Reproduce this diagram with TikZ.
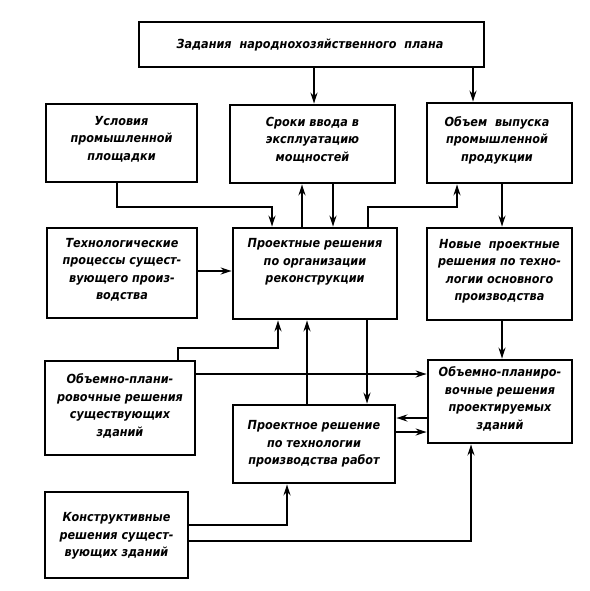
\documentclass[tikz,border=0pt]{standalone}
\usepackage{fontspec}
\setmainfont{DejaVu Sans Condensed Bold Oblique}
\usetikzlibrary{arrows.meta}
\begin{document}
\begin{tikzpicture}[x=1pt,y=-1pt,
  box/.style={draw,line width=2.8pt,inner sep=0pt},
  txt/.style={align=center,font=\fontsize{12.5}{17.5}\selectfont,inner sep=0pt},
  conn/.style={line width=2.2pt},
  arr/.style={conn,-{Stealth[length=11pt,width=7pt]}}]
\useasboundingbox (0,0) rectangle (589,591);
% boxes
\node[box,minimum width=345pt,minimum height=45pt] (T) at (311.5,44.5) {};
\node[box,minimum width=151pt,minimum height=78pt] (A) at (121.5,143) {};
\node[box,minimum width=165pt,minimum height=78pt] (B) at (312.5,144) {};
\node[box,minimum width=145pt,minimum height=80pt] (C) at (499.5,143) {};
\node[box,minimum width=150pt,minimum height=90pt] (D) at (122,273) {};
\node[box,minimum width=164pt,minimum height=91pt] (E) at (315,273.5) {};
\node[box,minimum width=145pt,minimum height=92pt] (F) at (499.5,274) {};
\node[box,minimum width=150pt,minimum height=94pt] (G) at (120,408) {};
\node[box,minimum width=144pt,minimum height=83pt] (H) at (500,401.5) {};
\node[box,minimum width=162pt,minimum height=78pt] (I) at (314,444) {};
\node[box,minimum width=143pt,minimum height=86pt] (J) at (116.5,535) {};
% texts
\node[txt] (tT) at (310,45) {Задания \ народнохозяйственного \ плана};
\node[txt] (tA) at (121.5,139) {Условия\\промышленной\\площадки};
\node[txt] (tB) at (312.5,140) {Сроки ввода в\\эксплуатацию\\мощностей};
\node[txt] (tC) at (497,140) {Объем \ выпуска\\промышленной\\продукции};
\node[txt] (tD) at (122,270) {Технологические\\процессы сущест-\\вующего произ-\\водства};
\node[txt] (tE) at (315,262) {Проектные решения\\по организации\\реконструкции};
\node[txt] (tF) at (499.5,271) {Новые \ проектные\\решения по техно-\\логии основного\\производства};
\node[txt] (tG) at (120,406) {Объемно-плани-\\ровочные решения\\существующих\\зданий};
\node[txt] (tH) at (500,399) {Объемно-планиро-\\вочные решения\\проектируемых\\зданий};
\node[txt] (tI) at (314,444) {Проектное решение\\по технологии\\производства работ};
\node[txt] (tJ) at (116.5,536) {Конструктивные\\решения сущест-\\вующих зданий};
% lane coordinates
\coordinate (v1) at (314,0);
\coordinate (v2) at (473,0);
\coordinate (a1) at (117,207);
\coordinate (a2) at (272,207);
\coordinate (v3) at (302,0);
\coordinate (v4) at (333,0);
\coordinate (c1) at (368,207);
\coordinate (c2) at (457,207);
\coordinate (v5) at (502,0);
\coordinate (h1) at (0,271);
\coordinate (g1) at (178,348);
\coordinate (g2) at (278,348);
\coordinate (h2) at (0,374);
\coordinate (v6) at (307,0);
\coordinate (v7) at (367,0);
\coordinate (h3) at (0,418);
\coordinate (h4) at (0,432);
\coordinate (j1) at (287,525);
\coordinate (k1) at (471,541);
% connectors
\draw[arr] (T.south -| v1) -- (B.north -| v1);
\draw[arr] (T.south -| v2) -- (C.north -| v2);
\draw[arr] (A.south -| a1) -- (a1) -- (a2) -- (E.north -| a2);
\draw[arr] (E.north -| v3) -- (B.south -| v3);
\draw[arr] (B.south -| v4) -- (E.north -| v4);
\draw[arr] (E.north -| c1) -- (c1) -- (c2) -- (C.south -| c2);
\draw[arr] (C.south -| v5) -- (F.north -| v5);
\draw[arr] (F.south -| v5) -- (H.north -| v5);
\draw[arr] (D.east |- h1) -- (E.west |- h1);
\draw[arr] (G.north -| g1) -- (g1) -- (g2) -- (E.south -| g2);
\draw[arr] (G.east |- h2) -- (H.west |- h2);
\draw[arr] (I.north -| v6) -- (E.south -| v6);
\draw[arr] (E.south -| v7) -- (I.north -| v7);
\draw[arr] (H.west |- h3) -- (I.east |- h3);
\draw[arr] (I.east |- h4) -- (H.west |- h4);
\draw[arr] (J.east |- j1) -- (j1) -- (I.south -| j1);
\draw[arr] (J.east |- k1) -- (k1) -- (H.south -| k1);
\end{tikzpicture}
\end{document}
